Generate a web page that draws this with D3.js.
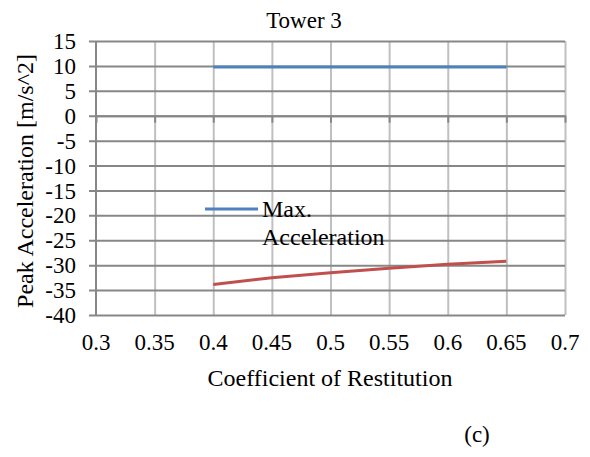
<!DOCTYPE html>
<html><head><meta charset="utf-8">
<script src="https://cdn.jsdelivr.net/npm/d3@7"></script>
</head><body style="margin:0;background:#fff">
<svg id="c" width="590" height="457"></svg>
<script>
const coef = [0.4, 0.45, 0.5, 0.55, 0.6, 0.65];
const maxAcc = [9.8, 9.8, 9.8, 9.8, 9.8, 9.8];
const minAcc = [-33.9, -32.5, -31.5, -30.6, -29.8, -29.2];
const xTicks = [0.3, 0.35, 0.4, 0.45, 0.5, 0.55, 0.6, 0.65, 0.7];
const yTicks = [15, 10, 5, 0, -5, -10, -15, -20, -25, -30, -35, -40];

const FF = "Liberation Serif";
const svg = d3.select("#c");
const L = 96, R = 565, T = 41, B = 315;
const x = d3.scaleLinear().domain([0.3, 0.7]).range([L, R]);
const y = d3.scaleLinear().domain([-40, 15]).range([B, T]);

// vertical gridlines (light)
svg.append("g").attr("transform", `translate(0,${T})`)
  .call(d3.axisBottom(x).tickValues(xTicks.slice(1)).tickSize(B - T).tickFormat(""))
  .call(g => g.select(".domain").remove())
  .call(g => g.selectAll("line").attr("stroke", "#c0c0c0").attr("stroke-width", 2));

// horizontal gridlines (dark) with outward ticks
svg.append("g").attr("transform", `translate(${L},0)`)
  .call(d3.axisLeft(y).tickValues(yTicks).tickSize(-(R - L)).tickSizeOuter(0).tickFormat(""))
  .call(g => g.select(".domain").remove())
  .call(g => g.selectAll("line").attr("x1", -7).attr("stroke", "#878787").attr("stroke-width", 2));

// y axis line
svg.append("line").attr("x1", L).attr("x2", L).attr("y1", T).attr("y2", B)
  .attr("stroke", "#878787").attr("stroke-width", 2);

// x axis at y=0 with ticks
svg.append("g").attr("transform", `translate(0,${y(0)})`)
  .call(d3.axisBottom(x).tickValues(xTicks).tickSize(7).tickSizeOuter(0).tickFormat(""))
  .call(g => g.select(".domain").attr("stroke", "#878787").attr("stroke-width", 2))
  .call(g => g.selectAll("line").attr("stroke", "#878787").attr("stroke-width", 2));

// y tick labels
svg.append("g").selectAll("text").data(yTicks).join("text")
  .attr("font-family", FF)
  .attr("x", 76).attr("y", d => y(d)).attr("dy", "0.35em")
  .attr("text-anchor", "end").attr("font-size", 23).text(d => d);

// x tick labels
svg.append("g").selectAll("text").data(xTicks).join("text")
  .attr("font-family", FF)
  .attr("x", d => x(d)).attr("y", 350)
  .attr("text-anchor", "middle").attr("font-size", 23).text(d => d);

const line = d3.line().x(d => x(d[0])).y(d => y(d[1]));
svg.append("path").datum(coef.map((c, i) => [c, maxAcc[i]]))
  .attr("d", line).attr("fill", "none").attr("stroke", "#4F81BD").attr("stroke-width", 3);
svg.append("path").datum(coef.map((c, i) => [c, minAcc[i]]))
  .attr("d", line).attr("fill", "none").attr("stroke", "#C0504D").attr("stroke-width", 3);

// title
svg.append("text").attr("font-family", FF).attr("x", 304).attr("y", 28).attr("text-anchor", "middle")
  .attr("font-size", 23).text("Tower 3");

// axis titles
svg.append("text").attr("font-family", FF).attr("x", 330).attr("y", 386).attr("text-anchor", "middle")
  .attr("font-size", 24).text("Coefficient of Restitution");
svg.append("text").attr("font-family", FF).attr("transform", "translate(33,181) rotate(-90)")
  .attr("text-anchor", "middle").attr("font-size", 24).text("Peak Acceleration [m/s^2]");

// legend
svg.append("line").attr("x1", 205).attr("x2", 258).attr("y1", 209).attr("y2", 209)
  .attr("stroke", "#4F81BD").attr("stroke-width", 3);
svg.append("text").attr("font-family", FF).attr("x", 262).attr("y", 217).attr("font-size", 24).text("Max.");
svg.append("text").attr("font-family", FF).attr("x", 262).attr("y", 245).attr("font-size", 24).text("Acceleration");

// panel label
svg.append("text").attr("font-family", FF).attr("x", 477).attr("y", 442).attr("text-anchor", "middle")
  .attr("font-size", 23).text("(c)");
</script>
</body></html>
